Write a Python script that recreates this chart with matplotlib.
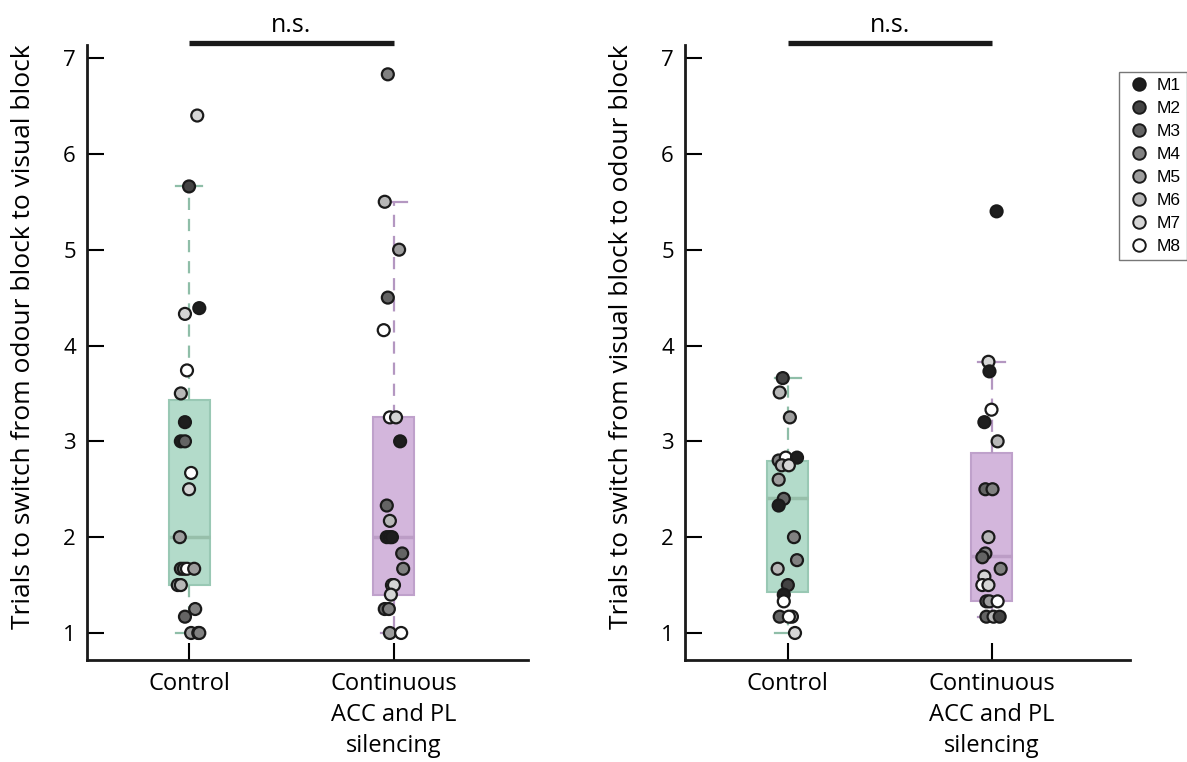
import matplotlib.pyplot as plt
from matplotlib.lines import Line2D

plt.rcParams['font.family'] = ['Open Sans', 'DejaVu Sans']

groups = ['Control', 'Continuous\nACC and PL\nsilencing']
mice = ['M1', 'M2', 'M3', 'M4', 'M5', 'M6', 'M7', 'M8']
mouse_colors = ['#1e1e1e', '#434343', '#646464', '#818181', '#9d9d9d', '#b7b7b7', '#d5d5d5', '#ffffff']

# odour block -> visual block (left panel)
ov_ctrl = [6.40, 5.66, 4.39, 4.33, 3.74, 3.50, 3.20, 3.00, 3.00, 2.67, 2.50, 2.00,
           1.67, 1.67, 1.67, 1.67, 1.50, 1.50, 1.25, 1.17, 1.00, 1.00, 1.00]
ov_ctrl_mouse = [7, 2, 1, 7, 8, 6, 1, 1, 3, 8, 7, 5, 3, 4, 8, 5, 5, 6, 4, 3, 5, 3, 4]
ov_ctrl_dx = [0.04, 0.0, 0.05, -0.02, -0.01, -0.04, -0.02, -0.04, -0.02, 0.01, 0.0, -0.045,
              -0.04, -0.025, -0.01, 0.025, -0.055, -0.04, 0.03, -0.02, 0.01, 0.045, 0.05]

ov_sil = [6.83, 5.50, 5.00, 4.50, 4.16, 3.25, 3.25, 3.00, 2.33, 2.17, 2.00, 2.00, 2.00,
          1.83, 1.67, 1.50, 1.50, 1.40, 1.25, 1.25, 1.00, 1.00]
ov_sil_mouse = [4, 6, 5, 3, 8, 8, 7, 1, 3, 6, 1, 2, 1, 3, 4, 8, 7, 7, 3, 4, 5, 8]
ov_sil_dx = [-0.03, -0.045, 0.025, -0.03, -0.05, -0.02, 0.01, 0.03, -0.035, -0.02, -0.035, -0.02,
             -0.01, 0.04, 0.045, -0.01, 0.0, -0.015, -0.045, -0.025, -0.02, 0.035]

# visual block -> odour block (right panel)
vo_ctrl = [3.66, 3.51, 3.25, 2.80, 2.83, 2.83, 2.75, 2.75, 2.60, 2.40, 2.33, 2.00, 1.76,
           1.67, 1.50, 1.40, 1.33, 1.17, 1.17, 1.17, 1.00]
vo_ctrl_mouse = [2, 6, 5, 4, 8, 1, 6, 7, 5, 3, 1, 4, 4, 6, 2, 1, 8, 3, 5, 8, 7]
vo_ctrl_dx = [-0.025, -0.04, 0.01, -0.045, -0.01, 0.045, -0.03, 0.005, -0.045, -0.02, -0.045,
              0.03, 0.045, -0.05, 0.0, -0.02, -0.02, -0.04, 0.02, 0.005, 0.035]

vo_sil = [5.40, 3.83, 3.73, 3.33, 3.20, 3.00, 2.50, 2.50, 2.00, 1.83, 1.79, 1.67, 1.59,
          1.50, 1.50, 1.33, 1.33, 1.33, 1.17, 1.17, 1.17]
vo_sil_mouse = [1, 7, 1, 8, 1, 6, 3, 4, 6, 4, 3, 4, 7, 8, 7, 3, 5, 8, 3, 6, 2]
vo_sil_dx = [0.025, -0.015, -0.01, 0.0, -0.035, 0.03, -0.03, 0.005, -0.015, -0.03, -0.045,
             0.045, -0.035, -0.045, -0.015, -0.025, -0.01, 0.03, -0.025, 0.01, 0.04]

# box summaries: [control, silencing]
ov_q1 = [1.50, 1.40]
ov_med = [2.00, 2.00]
ov_q3 = [3.43, 3.25]
ov_lo = [1.00, 1.00]
ov_hi = [5.66, 5.50]

vo_q1 = [1.43, 1.33]
vo_med = [2.41, 1.80]
vo_q3 = [2.79, 2.88]
vo_lo = [1.00, 1.17]
vo_hi = [3.66, 3.83]

ylabels = ['Trials to switch from odour block to visual block',
           'Trials to switch from visual block to odour block']

box_fill = ['#b3dbca', '#d3b6dc']
box_edge = ['#99c8b4', '#bfa1cb']
med_col = ['#97bfaa', '#bc9dc6']
whisk_col = ['#8fbea8', '#b497c1']

fig = plt.figure(figsize=(11.87, 7.62), dpi=100)
ax1 = fig.add_axes([87 / 1187, 1 - 660 / 762, 441 / 1187, 615 / 762])
ax2 = fig.add_axes([685 / 1187, 1 - 660 / 762, 445 / 1187, 615 / 762])

panels = [
    (ax1, [ov_ctrl, ov_sil], [ov_ctrl_mouse, ov_sil_mouse], [ov_ctrl_dx, ov_sil_dx],
     ov_q1, ov_med, ov_q3, ov_lo, ov_hi, ylabels[0], (0.502, 2.654)),
    (ax2, [vo_ctrl, vo_sil], [vo_ctrl_mouse, vo_sil_mouse], [vo_ctrl_dx, vo_sil_dx],
     vo_q1, vo_med, vo_q3, vo_lo, vo_hi, ylabels[1], (0.495, 2.68)),
]

for ax, vals, mouse, dxs, q1, med, q3, lo, hi, ylab, xlim in panels:
    for i in range(2):
        stats = [{'q1': q1[i], 'med': med[i], 'q3': q3[i], 'whislo': lo[i], 'whishi': hi[i], 'fliers': []}]
        ax.bxp(stats, positions=[i + 1], widths=0.2, capwidths=0.13, patch_artist=True, showfliers=False,
               boxprops=dict(facecolor=box_fill[i], edgecolor=box_edge[i], linewidth=1.5),
               medianprops=dict(color=med_col[i], linewidth=2.5),
               whiskerprops=dict(color=whisk_col[i], linewidth=1.6, linestyle=(0, (5.5, 4))),
               capprops=dict(color=whisk_col[i], linewidth=1.6))
        xs = [i + 1 + d for d in dxs[i]]
        cols = [mouse_colors[m - 1] for m in mouse[i]]
        ax.scatter(xs, vals[i], s=74, c=cols, edgecolors='#1a1a1a', linewidths=1.6, zorder=5)

    ax.set_xlim(*xlim)
    ax.set_ylim(0.718, 7.136)
    ax.set_yticks(range(1, 8))
    ax.set_xticks([1, 2])
    ax.set_xticklabels(groups, fontsize=17, linespacing=1.38)
    ax.tick_params(axis='y', direction='in', length=12, width=1.5, labelsize=16, pad=8)
    ax.tick_params(axis='x', direction='in', length=12, width=1.5, pad=9)
    for side in ['top', 'right']:
        ax.spines[side].set_visible(False)
    for side in ['left', 'bottom']:
        ax.spines[side].set_linewidth(2)
        ax.spines[side].set_color('#1a1a1a')
    ax.set_ylabel(ylab, fontsize=19)
    ax.yaxis.set_label_coords(-0.115, 0.525)

    # significance bar
    ax.plot([1, 2], [7.157, 7.157], color='#1a1a1a', lw=3.8, solid_capstyle='butt', clip_on=False)
    ax.text(1.5, 7.27, 'n.s.', ha='center', va='baseline', fontsize=18)

handles = [Line2D([], [], marker='o', linestyle='none', markersize=9, markerfacecolor=c,
                  markeredgecolor='#1a1a1a', markeredgewidth=1.4) for c in mouse_colors]
leg = fig.legend(handles, mice, loc='upper right', bbox_to_anchor=(1.0, 1 - 72 / 762),
                 borderaxespad=0, fancybox=False, framealpha=1, edgecolor='#777777',
                 prop={'family': 'Liberation Sans', 'size': 12.5}, labelspacing=0.45,
                 handletextpad=0.3, handlelength=1.5, borderpad=0.35)
leg.get_frame().set_linewidth(1)

fig.savefig('out.png', dpi=100)
